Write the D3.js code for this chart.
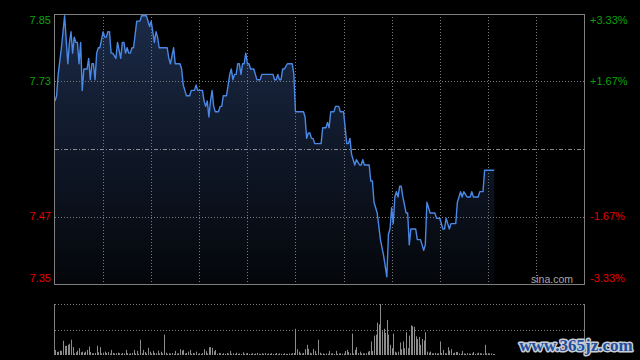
<!DOCTYPE html>
<html>
<head>
<meta charset="utf-8">
<script src="https://cdn.jsdelivr.net/npm/d3@7"></script>
<style>
  html, body { margin: 0; padding: 0; background: #000; }
  svg { display: block; }
</style>
</head>
<body>
<svg id="chart" width="640" height="360"></svg>
<script>
// ---------------- data ----------------
const prevClose = 7.60;
const pctStep = 0.016667;          // one grid step in percent of prevClose
const sessionMinutes = 330;        // HK session: 9:30-12:00, 13:00-16:00
const gridEvery = 30;

const priceMinutes = [0,1,2,4,6,8,9,10,11,12,13,14,15,16,17,18,20,21,22,23,24,25,26,27,28,30,31,32,33,34,35,36,38,39,41,42,43,44,45,46,47,48,49,51,53,54,57,59,60,62,63,64,65,70,71,72,74,75,77,78,79,80,81,82,84,85,87,88,89,92,93,94,95,96,97,98,99,100,102,103,104,105,107,108,109,110,111,112,113,114,115,116,117,118,119,120,121,122,124,125,126,128,129,136,137,138,139,140,141,142,143,145,148,149,150,155,156,157,158,159,160,161,162,166,167,169,170,171,172,174,175,177,178,180,182,183,184,185,187,188,190,191,192,193,196,197,198,199,201,203,205,207,208,209,210,211,212,213,214,215,216,217,219,220,221,222,225,226,228,230,231,232,234,237,238,240,242,243,244,245,246,247,250,251,252,253,254,255,257,259,260,261,264,265,267,268,274];

const prices = [7.69,7.70,7.74,7.79,7.85,7.76,7.80,7.82,7.78,7.81,7.80,7.80,7.76,7.80,7.71,7.75,7.75,7.77,7.73,7.76,7.76,7.73,7.78,7.79,7.79,7.82,7.81,7.81,7.82,7.82,7.78,7.78,7.77,7.80,7.77,7.80,7.80,7.78,7.79,7.78,7.78,7.79,7.79,7.84,7.84,7.85,7.85,7.83,7.84,7.80,7.82,7.81,7.79,7.79,7.77,7.76,7.79,7.76,7.76,7.76,7.75,7.72,7.71,7.70,7.70,7.71,7.71,7.72,7.71,7.71,7.69,7.68,7.69,7.66,7.69,7.71,7.68,7.67,7.67,7.68,7.68,7.70,7.70,7.72,7.74,7.75,7.73,7.74,7.74,7.76,7.76,7.74,7.76,7.76,7.78,7.76,7.76,7.75,7.75,7.74,7.73,7.73,7.74,7.74,7.73,7.73,7.74,7.73,7.73,7.75,7.75,7.76,7.76,7.74,7.67,7.67,7.66,7.62,7.63,7.63,7.62,7.62,7.61,7.61,7.64,7.64,7.65,7.64,7.67,7.67,7.68,7.68,7.67,7.67,7.61,7.61,7.62,7.59,7.57,7.58,7.57,7.57,7.58,7.57,7.57,7.54,7.54,7.50,7.48,7.43,7.40,7.36,7.44,7.45,7.49,7.46,7.51,7.52,7.51,7.53,7.53,7.51,7.48,7.48,7.42,7.45,7.45,7.43,7.43,7.41,7.42,7.50,7.48,7.48,7.47,7.47,7.45,7.45,7.47,7.46,7.45,7.46,7.46,7.50,7.51,7.52,7.51,7.52,7.51,7.51,7.52,7.51,7.51,7.52,7.52,7.56,7.56];

// one volume per minute, 0..274
const volumes = [
  50,30,33,43,40,140,90,90,100,110, 150,77,15,27,43,67,27,33,23,33,
  50,83,30,17,17,20,90,27,77,17, 23,33,20,30,15,50,20,15,17,23,
  17,12,20,15,50,18,12,17,20,50, 15,40,12,150,17,50,30,15,70,33,
  15,40,20,17,43,15,33,17,200,23, 12,17,15,20,12,40,15,18,57,43,
  50,15,20,33,50,12,20,15,33,12, 17,10,20,57,37,15,77,77,70,37,
  50,12,20,17,10,17,12,20,15,40, 12,17,10,23,12,15,10,27,12,15,
  20,10,12,18,10,15,20,12,10,17, 12,20,10,15,12,18,10,12,20,10,
  15,12,10,17,12,10,15,12,18,20, 257,57,33,17,15,20,57,100,60,23,
  15,60,40,12,150,23,12,17,10,15, 12,40,15,17,10,40,12,15,17,12,
  15,40,50,30,17,210,15,50,77,20, 33,15,17,15,17,33,40,133,40,190,
  200,317,300,500,233,257,217,343,200,100, 67,210,33,23,33,123,57,133,67,223,
  67,190,290,283,277,183,157,177,100,157, 143,223,33,23,33,17,15,20,15,17,
  133,20,50,17,15,77,43,57,17,23, 30,30,15,12,40,15,12,17,15,12,
  15,30,12,15,23,17,15,12,100,17, 17,15,15,10,10
];
const volumeMax = 500;

const gridSteps = [2, 1, -1, -2];
const leftLabels = ["7.85", "7.73", "7.47", "7.35"];
const rightLabels = ["+3.33%", "+1.67%", "-1.67%", "-3.33%"];
const sourceLabel = "sina.com";
const watermark = "www.365jz.com";

// ---------------- drawing ----------------
const svg = d3.select("#chart");
const W = 640, H = 360;
const plot = { left: 55, right: 584, top: 14, bottom: 284 };
const vol = { top: 304, bottom: 355 };

const x = d3.scaleLinear().domain([0, sessionMinutes]).range([plot.left, plot.right]);
const y = d3.scaleLinear()
  .domain([prevClose * (1 - 2 * pctStep), prevClose * (1 + 2 * pctStep)])
  .range([plot.bottom, plot.top]);
const yv = d3.scaleLinear().domain([0, volumeMax]).range([vol.bottom, vol.top]);

svg.append("rect").attr("width", W).attr("height", H).attr("fill", "#000");

const defs = svg.append("defs");
const grad = defs.append("linearGradient").attr("id", "areaGrad")
  .attr("gradientUnits", "userSpaceOnUse")
  .attr("x1", 0).attr("x2", 0).attr("y1", plot.top).attr("y2", plot.bottom);
grad.append("stop").attr("offset", "0%").attr("stop-color", "#1b2a47");
grad.append("stop").attr("offset", "100%").attr("stop-color", "#04060a");

const series = priceMinutes.map((m, i) => ({ m, p: prices[i] }));

// area
const area = d3.area().x(d => x(d.m)).y0(plot.bottom).y1(d => y(d.p));
svg.append("path").datum(series).attr("d", area).attr("fill", "url(#areaGrad)");

// grid: vertical
const gridColor = "#7a7a7a";
const vTicks = d3.range(gridEvery, sessionMinutes, gridEvery);
svg.append("g").selectAll("line").data(vTicks).join("line")
  .attr("x1", d => Math.round(x(d)) + 0.5).attr("x2", d => Math.round(x(d)) + 0.5)
  .attr("y1", plot.top).attr("y2", plot.bottom)
  .attr("stroke", gridColor).attr("stroke-width", 1).attr("stroke-dasharray", "1,2");

// grid: horizontal
svg.append("g").selectAll("line").data([1, -1]).join("line")
  .attr("x1", plot.left).attr("x2", plot.right)
  .attr("y1", d => Math.round(y(prevClose * (1 + d * pctStep))) + 0.5)
  .attr("y2", d => Math.round(y(prevClose * (1 + d * pctStep))) + 0.5)
  .attr("stroke", gridColor).attr("stroke-dasharray", "1,2");

// prev close line (dash-dot)
svg.append("line")
  .attr("x1", plot.left).attr("x2", plot.right)
  .attr("y1", Math.round(y(prevClose)) + 0.5).attr("y2", Math.round(y(prevClose)) + 0.5)
  .attr("stroke", "#8a8a8a").attr("stroke-dasharray", "4,2,1,2");

// price line
const line = d3.line().x(d => x(d.m)).y(d => y(d.p));
svg.append("path").datum(series).attr("d", line)
  .attr("fill", "none").attr("stroke", "#4a88e6").attr("stroke-width", 1.4)
  .attr("stroke-linejoin", "round");

// border
svg.append("rect")
  .attr("x", plot.left - 0.5).attr("y", plot.top + 0.5)
  .attr("width", plot.right - plot.left + 1).attr("height", plot.bottom - plot.top)
  .attr("fill", "none").attr("stroke", "#7f7f7f").attr("stroke-width", 1);

// labels
const font = "'Liberation Sans', Arial, sans-serif";
const labelY = (k, i) => {
  const yy = y(prevClose * (1 + k * pctStep));
  if (i === 0) return yy + 6;
  if (i === gridSteps.length - 1) return yy - 6;
  return yy;
};
svg.append("g").selectAll("text").data(gridSteps).join("text")
  .attr("x", 51).attr("y", (d, i) => labelY(d, i)).attr("dy", "0.36em")
  .attr("text-anchor", "end").attr("font-family", font).attr("font-size", 11)
  .attr("fill", d => d > 0 ? "#0ea00e" : "#e00000")
  .text((d, i) => leftLabels[i]);
svg.append("g").selectAll("text").data(gridSteps).join("text")
  .attr("x", 590).attr("y", (d, i) => labelY(d, i)).attr("dy", "0.36em")
  .attr("text-anchor", "start").attr("font-family", font).attr("font-size", 11)
  .attr("fill", d => d > 0 ? "#0ea00e" : "#e00000")
  .text((d, i) => rightLabels[i]);

svg.append("text").attr("x", 573).attr("y", 283).attr("text-anchor", "end")
  .attr("font-family", font).attr("font-size", 10.5).attr("fill", "#a8a8a8")
  .text(sourceLabel);

// volume panel
svg.append("g").selectAll("line").data([vol.top, (vol.top + vol.bottom) / 2]).join("line")
  .attr("x1", plot.left).attr("x2", plot.right)
  .attr("y1", d => Math.round(d) + 0.5).attr("y2", d => Math.round(d) + 0.5)
  .attr("stroke", gridColor).attr("stroke-dasharray", "1,2");
svg.append("g").selectAll("line").data([plot.left - 0.5, plot.right + 0.5]).join("line")
  .attr("x1", d => d).attr("x2", d => d).attr("y1", vol.top).attr("y2", vol.bottom)
  .attr("stroke", "#7f7f7f");

svg.append("g").selectAll("rect").data(volumes).join("rect")
  .attr("x", (d, i) => Math.round(x(i)))
  .attr("y", d => yv(d))
  .attr("width", 1)
  .attr("height", d => vol.bottom - yv(d))
  .attr("fill", "#8c8c8c");

// watermark
svg.append("text").attr("x", 576).attr("y", 351).attr("text-anchor", "middle")
  .attr("font-family", "'Liberation Serif', 'DejaVu Serif', serif")
  .attr("font-weight", "bold").attr("font-size", 17)
  .attr("fill", "#1f4e9c").attr("stroke", "#c8cdd6").attr("stroke-width", 3)
  .attr("paint-order", "stroke").attr("stroke-linejoin", "round")
  .text(watermark);
</script>
</body>
</html>
